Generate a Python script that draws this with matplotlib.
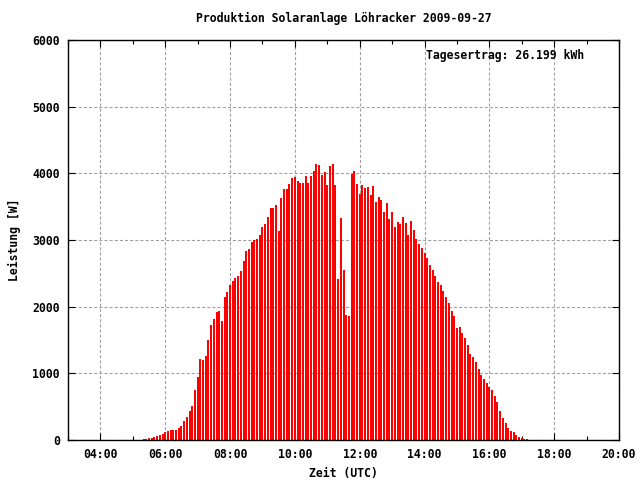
import numpy as np
import matplotlib
matplotlib.use("Agg")
import matplotlib.pyplot as plt

# 5-minute samples, first sample at 05:20 UTC
start_hour = 5 + 20 / 60
step_hours = 5 / 60
leistung = [
    15, 20, 35, 35, 50, 65, 80, 95, 125, 135,
    150, 150, 150, 185, 210, 290, 345, 440, 510, 755,
    945, 1215, 1200, 1260, 1500, 1725, 1815, 1920, 1935, 1785,
    2145, 2220, 2325, 2385, 2430, 2460, 2535, 2685, 2835, 2865,
    2970, 3000, 3015, 3075, 3195, 3240, 3345, 3480, 3480, 3525,
    3135, 3630, 3765, 3765, 3840, 3930, 3945, 3885, 3855, 3855,
    3960, 3855, 3960, 4035, 4140, 4125, 3975, 4020, 3825, 4110,
    4140, 3825, 2415, 3330, 2550, 1875, 1860, 3990, 4035, 3840,
    3690, 3825, 3780, 3795, 3675, 3810, 3570, 3645, 3600, 3420,
    3555, 3315, 3420, 3195, 3270, 3240, 3345, 3255, 3075, 3285,
    3150, 3015, 2940, 2880, 2805, 2730, 2625, 2550, 2460, 2370,
    2325, 2235, 2145, 2055, 1935, 1860, 1680, 1695, 1605, 1530,
    1425, 1290, 1245, 1170, 1065, 975, 915, 855, 795, 750,
    660, 570, 435, 330, 255, 180, 135, 120, 75, 45,
    30, 15, 15,
]
major_hours = [4, 6, 8, 10, 12, 14, 16, 18, 20]
minor_hours = [3, 5, 7, 9, 11, 13, 15, 17, 19]
y_ticks = [0, 1000, 2000, 3000, 4000, 5000, 6000]
title = "Produktion Solaranlage Löhracker 2009-09-27"
ertrag_text = "Tagesertrag: 26.199 kWh"

plt.rcParams['font.family'] = 'DejaVu Sans Mono'
plt.rcParams['font.weight'] = 'bold'
plt.rcParams['lines.scale_dashes'] = False

fig = plt.figure(figsize=(6.4, 4.8), dpi=100)
ax = fig.add_axes([68 / 640, 40 / 480, (619 - 68) / 640, 400 / 480])

t = start_hour + step_hours * np.arange(len(leistung))
ax.vlines(t, 0, leistung, colors='#ff0000', linewidth=1.2, antialiased=False, zorder=3)

ax.set_xlim(3, 20)
ax.set_ylim(0, 6000)
ax.set_xticks(major_hours)
ax.set_xticklabels(["%02d:00" % h for h in major_hours])
ax.set_xticks(minor_hours, minor=True)
ax.set_yticks(y_ticks)
ax.set_yticklabels([str(v) for v in y_ticks])

ax.grid(True, which='major', color='#a0a0a0', linestyle=(0, (2.2, 1.5)), linewidth=0.8, zorder=1)
ax.tick_params(which='both', direction='in', top=True, right=True, colors='black',
               labelsize=8.3, width=0.8)
ax.tick_params(which='major', length=5, pad=6)
ax.tick_params(which='minor', length=3)
for lbl in ax.get_xticklabels() + ax.get_yticklabels():
    lbl.set_fontweight('bold')
for s in ax.spines.values():
    s.set_linewidth(1.0)
    s.set_zorder(4)

ax.set_xlabel("Zeit (UTC)", fontsize=8.3, fontweight='bold', labelpad=4)
ax.set_ylabel("Leistung [W]", fontsize=8.3, fontweight='bold', labelpad=8)
fig.text(343.5 / 640, 1 - 18 / 480, title, ha='center', va='center',
         fontsize=8.3, fontweight='bold')
ax.text(14.03, 5770, ertrag_text, ha='left', va='center', fontsize=8.3,
        fontweight='bold')

fig.savefig("out.png", dpi=100)
